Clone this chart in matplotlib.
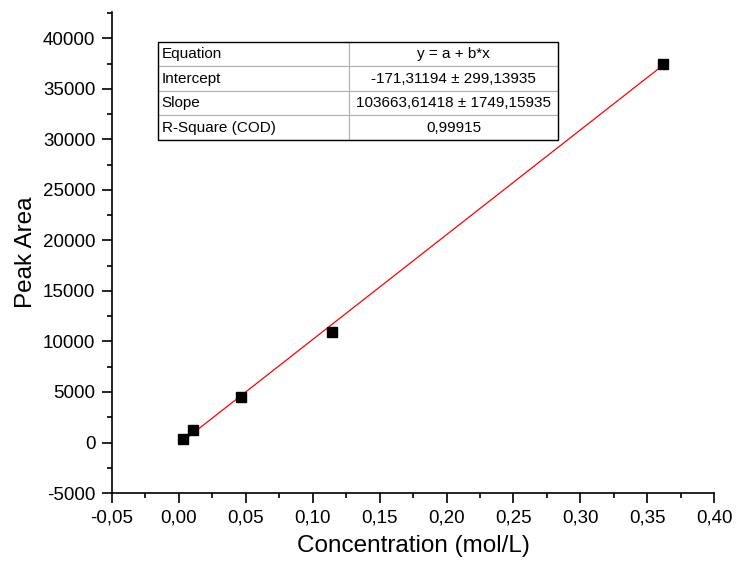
import matplotlib
matplotlib.use('Agg')
import matplotlib.pyplot as plt
from matplotlib.ticker import MultipleLocator, FuncFormatter
import numpy as np

plt.rcParams['font.family'] = ['Liberation Sans', 'DejaVu Sans']

# data
conc = [0.003, 0.0105, 0.0464, 0.1144, 0.3618]
area = [340, 1230, 4490, 10920, 37430]

intercept = -171.31194
slope = 103663.61418

table_rows = [
    ['Equation', 'y = a + b*x'],
    ['Intercept', '-171,31194 ± 299,13935'],
    ['Slope', '103663,61418 ± 1749,15935'],
    ['R-Square (COD)', '0,99915'],
]

fig = plt.figure(figsize=(7.37, 5.70), dpi=100)
ax = fig.add_axes([0.152, 0.135, 0.817, 0.844])

xfit = np.array([min(conc), max(conc)])
ax.plot(xfit, intercept + slope * xfit, color='red', lw=0.9, zorder=2)
ax.plot(conc, area, 's', color='black', markersize=7.5, zorder=3)

ax.set_xlim(-0.05, 0.40)
ax.set_ylim(-5000, 42600)
ax.xaxis.set_major_locator(MultipleLocator(0.05))
ax.xaxis.set_minor_locator(MultipleLocator(0.025))
ax.yaxis.set_major_locator(MultipleLocator(5000))
ax.yaxis.set_minor_locator(MultipleLocator(2500))
ax.xaxis.set_major_formatter(FuncFormatter(lambda v, p: f'{v:.2f}'.replace('.', ',')))
ax.yaxis.set_major_formatter(FuncFormatter(lambda v, p: f'{v:.0f}'))

for s in ['top', 'right']:
    ax.spines[s].set_visible(False)
for s in ['left', 'bottom']:
    ax.spines[s].set_linewidth(1.2)
ax.tick_params(which='major', direction='out', length=7, width=1.2, labelsize=13.5, pad=5)
ax.tick_params(which='minor', direction='out', length=3.5, width=1.2)

ax.set_xlabel('Concentration (mol/L)', fontsize=17.5, labelpad=6)
ax.set_ylabel('Peak Area', fontsize=17.5, labelpad=4)

# fit results table
tab = ax.table(cellText=table_rows, cellLoc='center',
               bbox=[(158 - 112) / 602, (493 - 140) / 481, 400 / 602, 98 / 481],
               colWidths=[191, 209])
tab.auto_set_font_size(False)
tab.set_fontsize(11)
for (r, c), cell in tab.get_celld().items():
    cell.set_edgecolor('#b0b0b0')
    cell.set_linewidth(0.8)
    if c == 0:
        cell.get_text().set_ha('left')
        cell.PAD = 0.02
# outer frame darker
ax.add_patch(plt.Rectangle(((158 - 112) / 602, (493 - 140) / 481), 400 / 602, 98 / 481,
                           transform=ax.transAxes, fill=False, edgecolor='black', lw=1.0, zorder=5))

fig.savefig('out.png', dpi=100)
